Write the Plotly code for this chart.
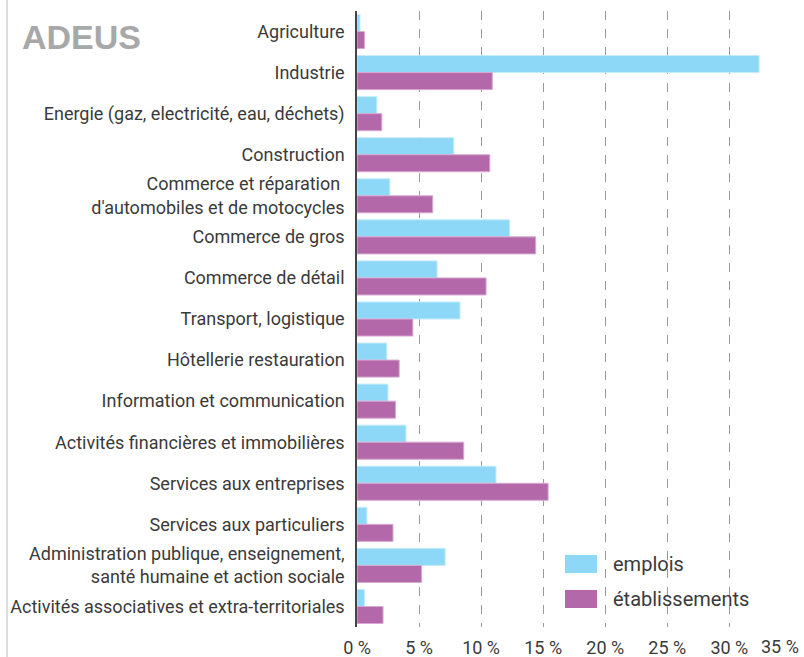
import plotly.graph_objects as go

categories = [
    "Agriculture",
    "Industrie",
    "Energie (gaz, electricité, eau, déchets)",
    "Construction",
    "Commerce et réparation <br>d'automobiles et de motocycles",
    "Commerce de gros",
    "Commerce de détail",
    "Transport, logistique",
    "Hôtellerie restauration",
    "Information et communication",
    "Activités financières et immobilières",
    "Services aux entreprises",
    "Services aux particuliers",
    "Administration publique, enseignement,<br>santé humaine et action sociale",
    "Activités associatives et extra-territoriales",
]
emplois = [0.24, 32.4, 1.6, 7.8, 2.65, 12.3, 6.45, 8.3, 2.4, 2.5, 3.95, 11.2, 0.8, 7.1, 0.6]
etablissements = [0.6, 10.9, 2.0, 10.7, 6.1, 14.4, 10.4, 4.5, 3.4, 3.1, 8.6, 15.4, 2.9, 5.2, 2.1]
tick_vals = [0, 5, 10, 15, 20, 25, 30, 35]
tick_text = ["0 %", "5 %", "10 %", "15 %", "20 %", "25 %", "30 %", "35 %"]
series_names = ["emplois", "établissements"]

c_emp = "#8DD8F6"
c_eta = "#B369A9"
FONT = "Roboto"
TXT = "#3a3a3a"

fig = go.Figure()
fig.add_trace(go.Bar(y=categories, x=emplois, orientation="h", name=series_names[0],
                     marker=dict(color=c_emp, line=dict(color="#C5EBFA", width=1)), showlegend=False))
fig.add_trace(go.Bar(y=categories, x=etablissements, orientation="h", name=series_names[1],
                     marker=dict(color=c_eta, line=dict(color="#D9A8D2", width=1)), showlegend=False))

L, R, T, B = 357, 12, 11, 30
W, H = 804, 657
pw = W - L - R
ph = H - T - B
XMAX = 35.05

# last tick label sits at the edge: shown as annotation shifted to stay inside the page
axis_text = tick_text[:-1] + [""]

fig.update_layout(
    width=W, height=H,
    margin=dict(l=L, r=R, t=T, b=B, pad=0, autoexpand=False),
    paper_bgcolor="white", plot_bgcolor="white",
    barmode="group", bargap=0.17, bargroupgap=0,
    font=dict(family=FONT, size=18, color=TXT),
    xaxis=dict(range=[0, XMAX], tickvals=tick_vals, ticktext=axis_text,
               showgrid=True, gridcolor="#9a9a9a", griddash="dash", gridwidth=1.2,
               zeroline=False, showline=False, ticks="", ticklabelstandoff=8,
               automargin=False,
               tickfont=dict(family=FONT, size=18, color=TXT)),
    yaxis=dict(autorange="reversed", showline=True, linecolor="#444444", linewidth=1.5,
               showgrid=False, ticks="", ticklabelstandoff=7, automargin=False,
               tickfont=dict(family=FONT, size=18, color=TXT)),
)

fig.add_annotation(text=tick_text[-1], xref="paper", yref="paper",
                   x=1 + (R - 3) / pw, y=-(646.5 - (H - B)) / ph, xanchor="right", yanchor="middle",
                   showarrow=False, font=dict(family=FONT, size=18, color=TXT))

# left border line
fig.add_shape(type="line", xref="paper", yref="paper",
              x0=(7 - L) / pw, x1=(7 - L) / pw, y0=-B / ph, y1=1 + T / ph,
              line=dict(color="#BBBBBB", width=1))

# logo
fig.add_annotation(text="<b>ADEUS</b>", xref="paper", yref="paper",
                   x=(20 - L) / pw, y=1 - (37 - T) / ph, xanchor="left", yanchor="middle",
                   showarrow=False, font=dict(family="Liberation Sans", size=34, color="#A8A8A8"))

# custom legend
leg = [(series_names[0], c_emp, 555, 573), (series_names[1], c_eta, 590, 608)]
for name, col, y0, y1 in leg:
    fig.add_shape(type="rect", xref="paper", yref="paper",
                  x0=(565 - L) / pw, x1=(597 - L) / pw,
                  y0=1 - (y1 - T) / ph, y1=1 - (y0 - T) / ph,
                  fillcolor=col, line=dict(width=0))
    fig.add_annotation(text=name, xref="paper", yref="paper",
                       x=(611 - L) / pw, y=1 - ((y0 + y1) / 2 - T) / ph,
                       xanchor="left", yanchor="middle", showarrow=False,
                       font=dict(family=FONT, size=20, color=TXT))

fig.write_html("out.html", config={"displayModeBar": False},
               post_script="document.body.style.margin='0';document.body.style.overflow='hidden';")
